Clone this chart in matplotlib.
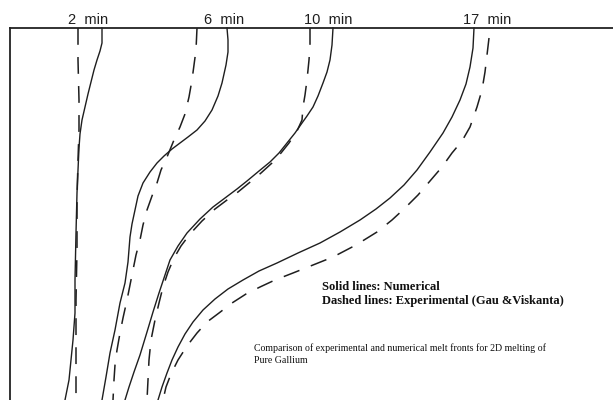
# Melt front comparison, 2D melting of pure gallium
import matplotlib.pyplot as plt

# traced fronts (x across the cavity, y depth from the top wall), in picture units
sol2_x = [102, 102, 100, 97, 94, 91, 88, 85, 82, 80, 79, 78, 77, 76, 75, 75, 73, 71, 69, 65]
sol2_y = [28, 43, 51, 60, 70, 82, 94, 107, 120, 134, 148, 170, 193, 233, 280, 313, 340, 360, 380, 400]
exp2_x = [78, 78, 79, 79, 78, 77, 77, 76, 76, 76]
exp2_y = [28, 60, 100, 130, 160, 200, 250, 300, 350, 400]

sol6_x = [227, 228, 228, 226, 222, 218, 212, 205, 197, 188, 180, 172, 164, 157, 150, 143, 138,
          135, 132, 130, 128, 125, 120, 115, 110, 106, 102]
sol6_y = [28, 40, 52, 65, 83, 96, 110, 121, 130, 137, 143, 149, 156, 163, 172, 183, 196,
          210, 224, 237, 262, 283, 303, 330, 353, 377, 400]
exp6_x = [197, 196, 194, 192, 189, 185, 180, 174, 167, 161, 157, 152, 147, 143, 140, 136, 133,
          130, 127, 123, 120, 117, 115, 114, 113]
exp6_y = [28, 50, 65, 80, 97, 114, 127, 140, 157, 170, 183, 196, 210, 225, 240, 255, 270,
          285, 300, 318, 333, 350, 365, 380, 400]

sol10_x = [333, 332, 330, 327, 323, 318, 313, 307, 302, 295, 287, 279, 270, 259, 247, 237, 225,
           213, 200, 187, 178, 170, 164, 159, 153, 147, 140, 134, 129, 125]
sol10_y = [28, 45, 60, 72, 83, 96, 107, 116, 123, 133, 143, 153, 162, 171, 181, 189, 198,
           207, 219, 233, 246, 260, 278, 293, 312, 332, 355, 372, 387, 400]
exp10_x = [310, 310, 309, 307, 305, 303, 302, 297, 289, 281, 272, 261, 249, 238, 227, 215, 202,
           190, 181, 174, 168, 163, 159, 155, 151, 149, 148, 147]
exp10_y = [28, 45, 60, 80, 95, 107, 120, 131, 143, 153, 163, 173, 183, 192, 200, 209, 221,
           234, 246, 258, 272, 287, 303, 320, 340, 360, 380, 400]

sol17_x = [474, 473, 470, 466, 460, 452, 443, 430, 417, 404, 390, 376, 360, 340, 320, 298, 277,
           259, 243, 228, 215, 203, 193, 185, 178, 172, 167, 162, 158]
sol17_y = [28, 48, 67, 84, 100, 117, 133, 152, 170, 185, 198, 209, 220, 232, 243, 253, 263,
           271, 280, 289, 299, 310, 322, 334, 347, 360, 373, 387, 400]
exp17_x = [489, 487, 485, 482, 477, 470, 462, 452, 442, 430, 418, 405, 392, 377, 356, 333, 313,
           293, 275, 260, 246, 232, 219, 207, 197, 187, 178, 171, 166, 163]
exp17_y = [38, 55, 72, 90, 107, 127, 141, 153, 167, 181, 195, 208, 220, 232, 245, 257, 265,
           273, 280, 287, 294, 303, 313, 322, 333, 346, 360, 374, 387, 400]

labels = ["2  min", "6  min", "10  min", "17  min"]
label_x = [88, 224, 328, 487]

fig = plt.figure(figsize=(6.13, 4.0), dpi=100)
ax = fig.add_axes([10/613, 0, 603/613, 372/400])
ax.set_xlim(10, 613)
ax.set_ylim(400, 28)
ax.set_xticks([])
ax.set_yticks([])
for s in ["right", "bottom"]:
    ax.spines[s].set_visible(False)
for s in ["top", "left"]:
    ax.spines[s].set_linewidth(1.3)
    ax.spines[s].set_color("#222222")

ink = "#1e1e1e"
for xs, ys in [(sol2_x, sol2_y), (sol6_x, sol6_y), (sol10_x, sol10_y), (sol17_x, sol17_y)]:
    ax.plot(xs, ys, color=ink, lw=1.0, clip_on=False)
for xs, ys in [(exp2_x, exp2_y), (exp6_x, exp6_y), (exp10_x, exp10_y), (exp17_x, exp17_y)]:
    ax.plot(xs, ys, color=ink, lw=1.1, dashes=(11, 8), clip_on=False)

for lab, lx in zip(labels, label_x):
    ax.text(lx, 20, lab, ha="center", va="center", fontsize=10.5,
            family="Liberation Sans", color=ink)

ax.text(322, 287, "Solid lines: Numerical", fontsize=9, fontweight="bold",
        family="Liberation Serif", va="center", color="#111111")
ax.text(322, 301, "Dashed lines: Experimental (Gau &Viskanta)", fontsize=9,
        fontweight="bold", family="Liberation Serif", va="center", color="#111111")
ax.text(254, 348, "Comparison of experimental and numerical melt fronts for 2D melting of",
        fontsize=7.1, family="Liberation Serif", va="center", color="#111111")
ax.text(254, 361, "Pure Gallium", fontsize=7.1, family="Liberation Serif",
        va="center", color="#111111")

fig.savefig("out.png", dpi=100)
